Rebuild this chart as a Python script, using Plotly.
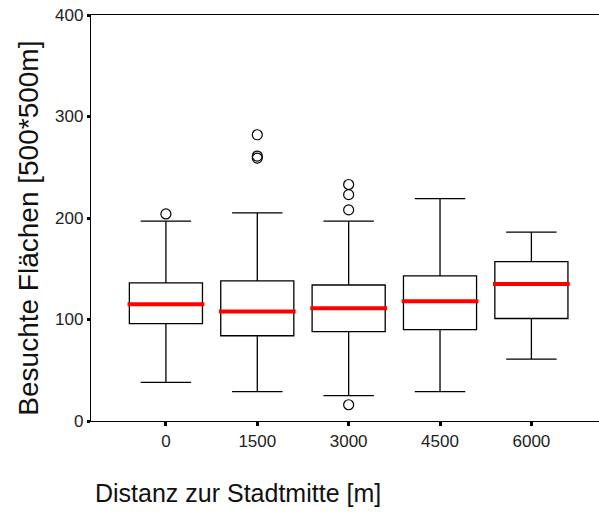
import plotly.graph_objects as go

categories = ["0", "1500", "3000", "4500", "6000"]
q1 = [96, 84, 88, 90, 101]
median = [115, 108, 111, 118, 135]
q3 = [136, 138, 134, 143, 157]
lowerfence = [38, 29, 25, 29, 61]
upperfence = [197, 205, 197, 219, 186]
outlier_cat = [0, 1, 1, 1, 2, 2, 2, 2]
outlier_val = [204, 259, 261, 282, 208, 223, 233, 16]

yticks = [0, 100, 200, 300, 400]

pos = list(range(len(categories)))
box_w = 0.8

fig = go.Figure()
fig.add_trace(go.Box(
    x=pos, q1=q1, median=median, q3=q3,
    lowerfence=lowerfence, upperfence=upperfence,
    boxpoints=False, width=box_w, whiskerwidth=0.69,
    fillcolor="white", line=dict(color="black", width=1.3),
    showlegend=False, hoverinfo="skip"))

mx, my = [], []
for p, m in zip(pos, median):
    mx += [p - box_w / 2 - 0.02, p + box_w / 2 + 0.02, None]
    my += [m, m, None]
fig.add_trace(go.Scatter(x=mx, y=my, mode="lines",
                         line=dict(color="#ff0000", width=4),
                         showlegend=False, hoverinfo="skip"))

fig.add_trace(go.Scatter(x=outlier_cat, y=outlier_val, mode="markers",
                         marker=dict(symbol="circle-open", size=10,
                                     color="black", line=dict(width=1.2)),
                         showlegend=False, hoverinfo="skip"))

font = "Liberation Sans, Arial, sans-serif"
fig.update_layout(
    width=599, height=513,
    margin=dict(l=91, r=0, t=15, b=92),
    paper_bgcolor="white", plot_bgcolor="white",
    font=dict(family=font, size=17, color="#222"),
    xaxis=dict(range=[-0.82, 4.74], tickvals=pos, ticktext=categories,
               showline=True, linecolor="black", linewidth=1.3, mirror=True,
               ticks="outside", ticklen=4, tickwidth=2.5, tickcolor="black",
               showgrid=False, zeroline=False, tickfont=dict(size=17)),
    yaxis=dict(range=[0, 400], tickvals=yticks,
               showline=True, linecolor="black", linewidth=1.3,
               ticks="outside", ticklen=3, tickwidth=2.5, tickcolor="black",
               showgrid=False, zeroline=False, tickfont=dict(size=17)),
    annotations=[
        dict(text="Distanz zur Stadtmitte [m]", xref="paper", yref="paper",
             x=0.004, y=-0.177, xanchor="left", yanchor="middle",
             showarrow=False, font=dict(size=25, color="#111")),
        dict(text="Besuchte Flächen [500*500m]", xref="paper", yref="paper",
             x=-0.123, y=0.475, xanchor="center", yanchor="middle",
             textangle=-90, showarrow=False, font=dict(size=28, color="#111")),
    ],
)

fig.write_html("out.html")
